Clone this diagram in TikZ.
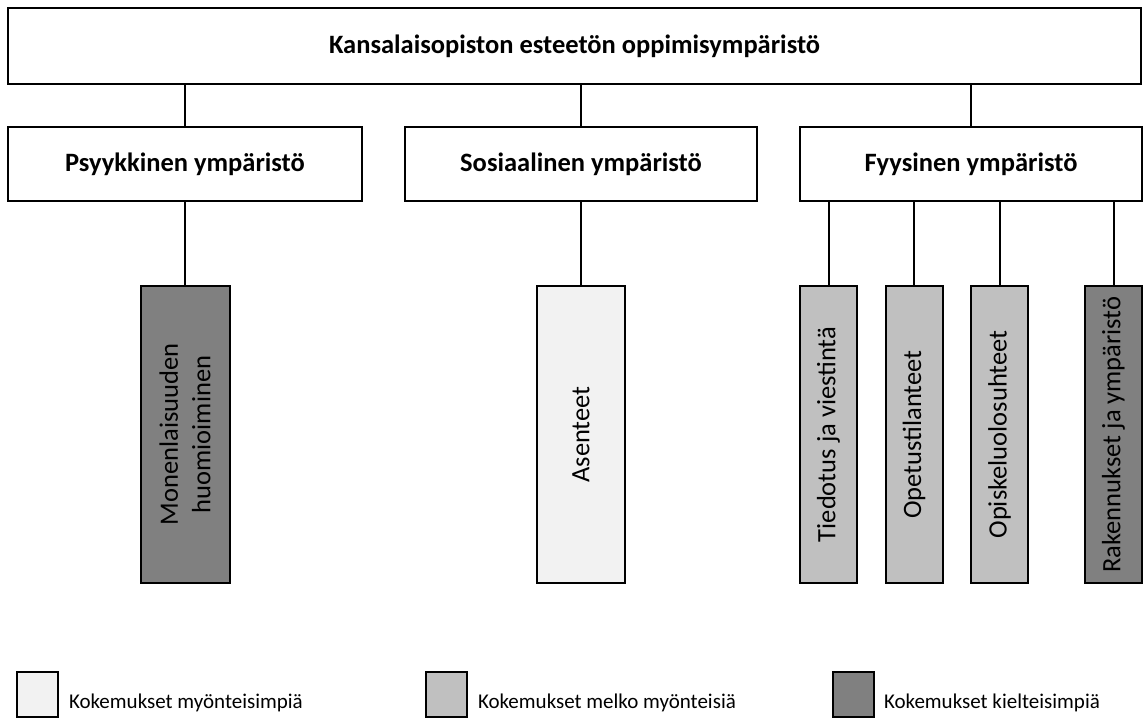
\documentclass[tikz,border=0pt]{standalone}
\usepackage{fontspec}
\setmainfont{Carlito}
\definecolor{shadeA}{HTML}{F2F2F2}
\definecolor{shadeB}{HTML}{C0C0C0}
\definecolor{shadeC}{HTML}{808080}
\newcommand{\bigfont}{\fontsize{26.5}{32.3}\selectfont}
\newcommand{\legfont}{\fontsize{21}{25}\selectfont}
\begin{document}
\begin{tikzpicture}[x=1pt,y=-1pt,line width=2pt,
  plainbox/.style={draw=black,rectangle,inner sep=0pt,fill=white},
  headtext/.style={font=\bigfont\bfseries},
  tallbox/.style={draw=black,rectangle,inner sep=0pt,minimum height=297pt},
  vtext/.style={rotate=90,font=\bigfont,align=center,inner sep=0pt},
  legbox/.style={draw=black,rectangle,inner sep=0pt,minimum width=41pt,minimum height=45pt},
  legtext/.style={anchor=base west,inner sep=0pt,font=\legfont},
  conn/.style={draw=black,line width=2pt}]
\useasboundingbox (0,0) rectangle (1143,718);
% top
\node[plainbox,minimum width=1133pt,minimum height=76pt] (top) at (574.5,46) {};
\node[headtext] (toptext) at (574.5,46) {Kansalaisopiston esteetön oppimisympäristö};
% level 2
\node[plainbox,minimum width=354pt,minimum height=74pt] (psy) at (185,164) {};
\node[headtext] (psytext) at (185,164) {Psyykkinen ympäristö};
\node[plainbox,minimum width=352pt,minimum height=74pt] (sos) at (581,164) {};
\node[headtext] (sostext) at (581,164) {Sosiaalinen ympäristö};
\node[plainbox,minimum width=342pt,minimum height=74pt] (fyy) at (971,164) {};
\node[headtext] (fyytext) at (971,164) {Fyysinen ympäristö};
% level 3
\node[tallbox,fill=shadeC,minimum width=89pt] (mon) at (185,434.5) {};
\node[vtext] (montext) at (185,434.5) {Monenlaisuuden\\huomioiminen};
\node[tallbox,fill=shadeA,minimum width=88pt] (ase) at (581,434.5) {};
\node[vtext] (asetext) at (581,434.5) {Asenteet};
\node[tallbox,fill=shadeB,minimum width=57pt] (tie) at (828.5,434.5) {};
\node[vtext] (tietext) at (828.5,434.5) {Tiedotus ja viestintä};
\node[tallbox,fill=shadeB,minimum width=57pt] (ope) at (914,434.5) {};
\node[vtext] (opetext) at (914,434.5) {Opetustilanteet};
\node[tallbox,fill=shadeB,minimum width=57pt] (opi) at (999.5,434.5) {};
\node[vtext] (opitext) at (999.5,434.5) {Opiskeluolosuhteet};
\node[tallbox,fill=shadeC,minimum width=57pt] (rak) at (1113.5,434.5) {};
\node[vtext] (raktext) at (1113.5,434.5) {Rakennukset ja ympäristö};
% connectors
\draw[conn] (top.south -| psy.north) -- (psy.north);
\draw[conn] (top.south -| sos.north) -- (sos.north);
\draw[conn] (top.south -| fyy.north) -- (fyy.north);
\draw[conn] (psy.south) -- (mon.north);
\draw[conn] (sos.south) -- (ase.north);
\draw[conn] (fyy.south -| tie.north) -- (tie.north);
\draw[conn] (fyy.south -| ope.north) -- (ope.north);
\draw[conn] (fyy.south -| opi.north) -- (opi.north);
\draw[conn] (fyy.south -| rak.north) -- (rak.north);
% legend
\node[legbox,fill=shadeA] (lega) at (37.5,694.5) {};
\node[legtext] (legatext) at (68,708) {Kokemukset myönteisimpiä};
\node[legbox,fill=shadeB] (legb) at (446,694.5) {};
\node[legtext] (legbtext) at (477,708) {Kokemukset melko myönteisiä};
\node[legbox,fill=shadeC] (legc) at (853,694.5) {};
\node[legtext] (legctext) at (883,708) {Kokemukset kielteisimpiä};
\end{tikzpicture}
\end{document}
